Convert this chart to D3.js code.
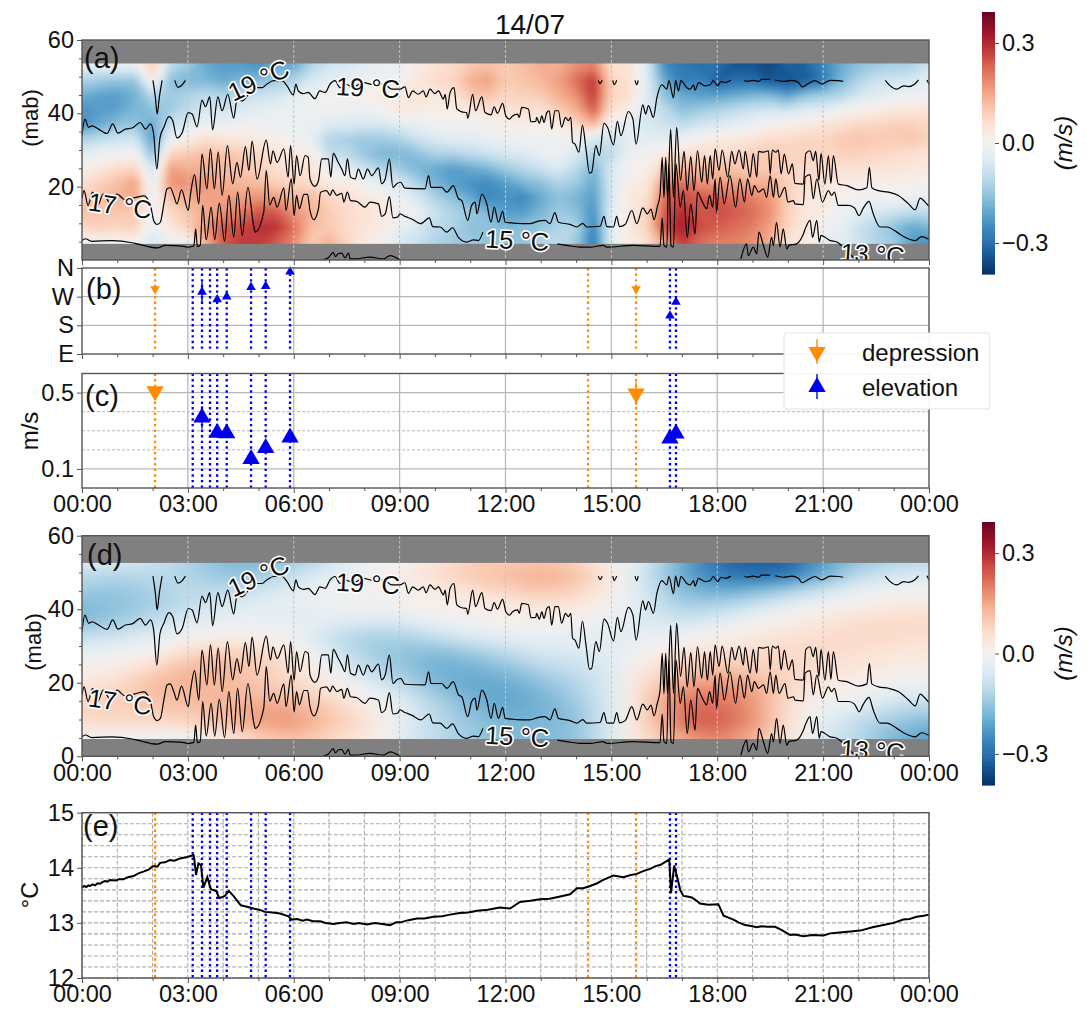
<!DOCTYPE html>
<html><head><meta charset="utf-8">
<script src="https://cdn.jsdelivr.net/npm/d3@7/dist/d3.min.js"></script>
<style>html,body{margin:0;padding:0;background:#fff}svg{display:block}text{font-family:"Liberation Sans",Arial,sans-serif;fill:#111}</style>
</head><body><svg id="c" width="1087" height="1010"></svg>
<script>
// ---------- data ----------
const title = "14/07";
const hourTicks = [0,3,6,9,12,15,18,21,24];
const minorHours = [1,2,4,5,7,8,10,11,13,14,16,17,19,20,22,23];
const mabRows = [53,49,45,41,37,33,29,25,21,17,13,9,5];
// velocity (hundredths of m/s): one list per half hour, top to bottom
const observedColumns = [
[-3,-12,-19,-24,-24,-12,-4,2,6,9,11,8,0],[-3,-14,-21,-22,-20,-10,-2,4,9,11,11,9,1],[-2,-15,-22,-21,-16,-8,-1,7,12,13,11,8,0],[-3,-15,-19,-18,-15,-7,0,8,16,15,10,9,1],
[10,4,-10,-16,-20,-22,-16,-8,-3,-2,-1,-3,-6],[-10,-16,-14,-14,-8,-2,8,16,18,12,7,5,-2],[-14,-18,-12,-10,-6,2,10,14,18,14,11,9,0],[-20,-18,-10,-6,-2,6,12,14,17,16,14,17,14],
[-22,-20,-12,-7,-3,5,11,12,14,16,18,24,24],[-22,-18,-10,-5,-2,4,10,11,13,16,20,26,28],[-24,-17,-8,-4,-1,3,7,9,12,18,25,29,28],[-20,-14,-7,-3,-2,1,5,6,9,16,24,29,24],
[-20,-12,-4,-2,-2,-1,3,5,8,13,18,22,19],[-12,-6,-1,-1,-3,-3,3,5,7,12,14,12,10],[-7,-4,0,-1,-5,-12,-10,-2,3,8,10,10,14],[-6,-3,1,-2,-5,-13,-10,-4,3,6,7,7,8],
[-4,-2,2,-2,-6,-14,-15,-8,-1,4,5,5,3],[-3,-1,2,1,-6,-14,-18,-12,-4,2,4,3,0],[-2,0,3,3,-4,-12,-18,-14,-6,-2,0,-3,-6],[3,4,5,3,-3,-8,-16,-18,-12,-6,-2,-6,-8],
[5,7,4,2,0,-6,-12,-20,-18,-12,-8,-10,-12],[7,8,5,2,0,-4,-12,-22,-22,-16,-12,-12,-14],[10,14,10,4,-1,-4,-10,-20,-24,-20,-14,-16,-14],[12,16,12,5,0,-3,-8,-18,-25,-26,-18,-15,-15],
[10,10,8,5,2,-2,-6,-14,-22,-24,-22,-18,-16],[12,11,9,6,2,-2,-5,-11,-18,-26,-22,-16,-16],[14,13,10,6,1,-1,-3,-8,-16,-20,-18,-15,-12],[14,16,14,10,3,-1,-2,-5,-12,-16,-14,-12,-10],
[18,22,18,14,8,-2,-6,-10,-14,-18,-16,-12,-14],[20,28,28,24,14,-6,-12,-18,-20,-22,-24,-26,-28],[6,8,8,6,-2,-8,-10,-6,-6,-6,-4,-4,-4],[5,6,6,2,-4,-4,-2,0,2,4,3,4,2],
[-5,-4,-4,-6,-6,-4,0,1,4,5,8,8,6],[-25,-20,-16,-10,-8,-4,4,10,18,22,24,26,16],[-28,-28,-20,-16,-10,-2,6,12,22,26,30,32,28],[-30,-26,-22,-14,-7,0,7,12,18,24,25,26,22],
[-30,-32,-22,-12,-6,3,6,12,16,24,26,24,20],[-34,-30,-20,-10,-4,3,8,11,16,22,24,22,20],[-34,-30,-18,-8,-2,5,9,10,14,20,22,20,18],[-36,-34,-18,-7,1,7,10,10,14,17,18,16,14],
[-32,-34,-22,-8,2,7,9,8,9,9,9,8,5],[-32,-33,-16,-5,3,8,8,7,6,4,4,4,3],[-26,-28,-14,-4,5,8,8,7,5,4,2,0,-3],[-20,-18,-12,-1,6,10,9,6,3,1,-2,-3,-4],
[-16,-12,-7,1,8,11,9,6,2,0,-4,-8,-8],[-14,-8,-5,2,8,10,8,5,1,-2,-6,-12,-12],[-13,-7,-3,4,9,10,7,5,2,0,-8,-16,-14],[-12,-6,-2,4,9,11,6,4,1,-2,-10,-20,-22],[-8,-4,-1,5,8,9,5,4,0,-3,-10,-18,-24]
];
// fitted velocity (hundredths of m/s): one list per hour, top to bottom
const fittedColumns = [
[-5,-10,-14,-17,-17,-10,-4,0,3,6,8,7,-1],[-6,-12,-15,-16,-14,-8,-2,2,6,8,9,7,-1],[-8,-10,-13,-13,-10,-5,0,6,11,12,10,7,-3],[-12,-12,-10,-9,-5,-1,6,12,14,13,11,8,-3],
[-17,-15,-10,-6,-3,1,8,13,13,13,13,11,3],[-18,-14,-8,-4,-2,1,7,10,10,12,16,16,9],[-14,-8,-4,-3,-3,-2,2,5,7,10,15,17,12],[-8,-4,-1,-2,-4,-8,-6,-2,2,6,10,11,8],
[-2,-1,0,-1,-5,-12,-13,-10,-5,0,4,6,4],[1,2,1,0,-5,-12,-15,-15,-12,-6,-3,-3,-4],[5,6,3,1,-2,-8,-16,-19,-18,-14,-11,-10,-10],[9,10,6,2,0,-5,-13,-18,-20,-19,-17,-15,-14],
[10,12,8,3,1,-3,-9,-15,-19,-21,-20,-18,-17],[11,14,11,5,1,-2,-6,-10,-15,-18,-19,-18,-17],[9,12,9,4,1,-3,-5,-8,-11,-13,-15,-16,-16],[2,3,2,0,-2,-4,-4,-5,-5,-5,-5,-5,-5],
[-7,-8,-7,-6,-6,-3,0,4,7,9,9,9,7],[-20,-20,-17,-13,-8,-2,4,8,13,19,22,22,15],[-30,-27,-20,-12,-5,0,5,10,16,20,23,24,20],[-33,-29,-18,-8,-1,3,6,9,13,17,18,18,14],
[-32,-28,-13,-4,2,5,7,8,8,7,6,6,4],[-22,-19,-8,0,4,6,7,6,4,2,-2,-4,-6],[-15,-10,-3,2,6,7,6,5,2,-1,-5,-10,-11],[-12,-6,-1,3,7,7,5,3,0,-4,-10,-15,-18],[-10,-5,-1,4,7,6,4,2,-1,-5,-12,-18,-22]
];
// isotherms: [hour, metres above bottom]
const iso19Main = [[0,33.9],[.08,38.4],[.19,36.2],[.28,36.6],[.47,35.7],[.71,34.5],[.87,37.1],[1.02,34.6],[1.23,35.7],[1.42,36],[1.65,37.5],[1.8,35.7],[1.94,37.1],[2.03,34.4],[2.12,24.8],[2.21,33.4],[2.32,36.2],[2.46,39.1],[2.57,38],[2.69,33.3],[2.84,34.8],[3.01,40.2],[3.12,39.8],[3.26,36.3],[3.4,43.6],[3.5,41.8],[3.62,44.5],[3.7,35.5],[3.85,44.5],[3.97,40.7],[4.13,45.2],[4.3,38.7],[4.39,43.6],[4.54,43.4],[4.7,45],[4.9,47],[5.1,47],[5.24,48],[5.43,48.9],[5.67,48.9],[5.81,47.5],[5.99,45],[6.06,48],[6.13,46.1],[6.27,45.4],[6.41,45.7],[6.6,44],[6.74,46.1],[6.89,45.7],[7.03,48],[7.17,48.9],[7.31,47],[7.45,48],[7.69,47.2],[7.97,48.4],[8.26,47.8],[8.54,48],[8.78,46.6],[9.01,46.6],[9.15,47.2],[9.25,44.3],[9.37,46.1],[9.53,45.2],[9.67,46.1],[9.75,44.5],[9.86,46.6],[10,45.4],[10.1,46.1],[10.24,43.9],[10.29,45.2],[10.35,41.2],[10.43,45.7],[10.54,47],[10.62,41.2],[10.76,40.4],[10.9,40.2],[10.93,38.6],[11.07,45.2],[11.15,40.7],[11.33,44.5],[11.42,40.2],[11.59,39.6],[11.68,41.8],[11.77,40],[11.92,42.7],[12.01,39.3],[12.11,38.4],[12.2,39.3],[12.34,39.8],[12.39,38.9],[12.46,41.6],[12.65,41.2],[12.72,37.7],[12.86,37.8],[12.88,38.9],[12.96,37.3],[13.03,39.3],[13.09,37.5],[13.17,40.2],[13.24,40.7],[13.31,35.7],[13.4,40.7],[13.5,40.7],[13.59,36.2],[13.7,38.9],[13.78,38],[13.85,38.9],[13.9,32.1],[13.97,31.6],[14.08,29.4],[14.18,36.8],[14.28,30.3],[14.38,23.7],[14.44,23.9],[14.56,31.2],[14.66,28.5],[14.79,37.3],[14.89,36.2],[15.06,31.4],[15.17,37.8],[15.27,33.9],[15.48,40.5],[15.61,38.4],[15.7,31.6],[15.89,42.3],[15.97,39.8],[16.05,42.1],[16.19,38.9],[16.29,44.3],[16.43,47.8],[16.57,46.6],[16.63,48.9],[16.76,44.2],[16.82,49],[16.9,46.1],[16.97,48.9],[17.14,47],[17.23,46.6],[17.33,47.8],[17.37,46.3],[17.47,48.4],[17.66,47.5],[17.8,47.8],[17.89,48.9],[18.01,47.5],[18.11,48.7],[18.22,48.4],[18.39,49]];
const iso19Parts = [
[[18.77,49],[18.83,48.7],[19.02,49],[19.17,48.7],[19.26,49.3],[19.5,49.3]],
[[19.64,49.1],[19.87,48.7],[20.11,49],[20.3,48.4],[20.41,47.2],[20.58,48.1],[20.77,48.9],[20.96,48],[21.2,49],[21.43,48.9],[21.57,48.7]],
[[22.76,49],[22.9,47.5],[23.09,46.6],[23.28,47.5],[23.42,47.3],[23.6,48],[23.7,49.1]],
[[23.94,49.1],[24,48]],
[[2.01,49],[2.08,44.3],[2.13,39.8],[2.19,44.3],[2.27,49]],
[[2.63,49],[2.72,47.1],[2.84,47.8],[2.93,49]],
[[14.63,49],[14.68,48.1],[14.74,49]],
[[15.04,49],[15.08,47.8],[15.15,49]],
[[15.67,49],[15.72,47.8],[15.76,49]]
];
const iso17 = [[0,16.7],[.06,18.9],[.17,14.9],[.3,18.5],[.45,15],[.6,18],[.8,15.5],[1,18],[1.2,16.5],[1.5,17],[1.75,17.5],[1.94,14.9],[2.03,10.8],[2.13,9.7],[2.22,10.3],[2.32,15.3],[2.41,19.4],[2.5,19.7],[2.6,17.6],[2.69,15.3],[2.82,19.1],[3.01,13.5],[3.07,17.6],[3.19,23.3],[3.31,15.3],[3.4,28.9],[3.54,19.4],[3.64,30.3],[3.75,19.4],[3.86,29.4],[3.97,17.6],[4.12,31.2],[4.27,20.8],[4.39,26.6],[4.49,22.6],[4.63,30.9],[4.73,24.4],[4.82,32.4],[4.96,22.1],[5.22,32.7],[5.34,26.2],[5.41,29.8],[5.53,26.6],[5.72,30.3],[5.84,22.6],[5.91,31.2],[6.01,20.7],[6.08,28.5],[6.18,23],[6.32,28.5],[6.41,28],[6.46,22.1],[6.6,20.1],[6.7,21.6],[6.79,27.6],[6.98,27.6],[7.05,22.6],[7.12,29.1],[7.26,26.6],[7.36,24.8],[7.45,23],[7.52,27.6],[7.61,22.6],[7.74,22.1],[7.83,24.8],[7.97,22.1],[8.09,24.8],[8.21,23],[8.4,25.1],[8.49,20.8],[8.59,22.1],[8.71,27.6],[8.81,19.8],[8.92,20.8],[9.03,21.2],[9.15,19.6],[9.72,19.4],[9.82,23],[9.89,19.8],[10.19,19.8],[10.34,18.5],[10.52,20.3],[10.67,16.7],[10.76,16.2],[10.93,10.8],[11.04,14.9],[11.14,15.8],[11.19,12.6],[11.33,18],[11.47,15.3],[11.59,10.3],[11.68,14.4],[11.8,10.3],[11.92,13.3],[11.99,10.3],[12.31,10],[12.69,9.9],[12.93,10.6],[13.12,10.8],[13.26,9.9],[13.4,12.9],[13.5,10.3],[13.83,9.7],[14.02,9],[14.19,10],[14.3,9],[14.68,9.2],[14.79,11.9],[14.87,9.1],[15.06,9],[15.15,11.9],[15.23,9.1],[15.39,9.7],[15.58,13.5],[15.72,9.9],[15.89,14.2],[16.02,12.6],[16.12,13.9],[16.21,11],[16.3,14.4],[16.38,18],[16.44,28],[16.49,17],[16.54,28],[16.59,17.1],[16.68,35.7],[16.76,17.1],[16.85,36.2],[16.96,21.7],[17.06,29.6],[17.15,18.9],[17.25,28.2],[17.34,18.9],[17.44,29.8],[17.56,21.2],[17.64,28.5],[17.72,20.7],[17.8,28.5],[17.87,22.1],[17.94,30.3],[18.05,24.4],[18.14,30],[18.3,22.6],[18.41,29.6],[18.5,26.2],[18.62,30],[18.74,24.8],[18.79,29.6],[18.93,22.6],[19.02,29.1],[19.12,22.6],[19.17,29.6],[19.31,29.4],[19.45,29.8],[19.5,23.5],[19.56,30],[19.66,29.4],[19.73,30],[19.81,23.5],[19.9,28.9],[20.02,23.5],[20.13,26.2],[20.2,20.9],[20.44,20.7],[20.51,29.1],[20.63,29.8],[20.72,27.1],[20.79,29.6],[20.88,21.7],[20.94,29.1],[21.05,20.7],[21.15,28.5],[21.22,20.9],[21.29,28.5],[21.43,20.7],[21.67,20.3],[22,19.1],[22.24,19.7],[22.31,25.3],[22.38,19.7],[22.57,18.9],[22.85,18.5],[23.13,17.6],[23.42,15.3],[23.61,13.7],[23.75,16.9],[23.87,16],[24,14.6]];
const iso15Early = [[0,5.3],[.09,5.8],[.28,5.1],[.85,5.3],[1.42,4.7],[1.56,4.4],[2.13,3.3],[2.36,4],[2.84,3.8],[3.02,3.5],[3.17,3.8],[3.22,8.5],[3.27,3.7],[3.35,4],[3.42,14.9],[3.52,5.5],[3.66,14.4],[3.76,5.5],[3.89,15.5],[4.04,5.1],[4.16,17.6],[4.3,6.2],[4.41,18.5],[4.54,6.7],[4.7,19.8],[4.87,9],[4.91,7.6],[5.15,13.1],[5.22,24.4],[5.32,15],[5.43,17.1],[5.53,14.4],[5.72,19.7],[5.78,13.5],[5.93,22.1],[6.01,12.1],[6.08,17.6],[6.16,14],[6.29,17.9],[6.39,17.9],[6.46,13.5],[6.57,11],[6.7,14],[6.76,18.5],[6.93,18.9],[7.03,17.6],[7.1,19.1],[7.22,17.6],[7.36,18.2],[7.42,15.8],[7.52,18.5],[7.61,16.2],[7.78,16],[8.02,14.4],[8.16,15.8],[8.4,15.3],[8.49,11.9],[8.59,12.6],[8.71,17.3],[8.81,11.5],[8.94,11.7],[9.01,12.6],[9.15,11.9],[9.34,11.2],[9.6,9.9],[9.84,11.5],[9.94,9.1],[10.15,9],[10.34,7.6],[10.5,8.8],[10.67,6.1],[10.9,4.9],[11.09,5.5],[11.23,5.3],[11.36,7.6]];
const iso15Late = [[13.47,4.4],[13.73,4],[14.11,3.5],[14.4,3.5],[14.77,4],[14.87,3.5],[15.62,4],[16.38,3.7],[16.44,11.5],[16.49,4],[16.57,3.5],[16.63,26.2],[16.69,4],[16.76,3.5],[16.83,26.2],[16.95,14.4],[17.04,18.9],[17.15,6.2],[17.25,15.3],[17.37,7.1],[17.44,18.5],[17.56,16.2],[17.7,14],[17.78,17.6],[17.87,14.4],[17.94,22.1],[17.98,13],[18.08,22.6],[18.2,15.3],[18.36,23],[18.52,14.4],[18.64,22.1],[18.77,15.8],[18.86,22.1],[18.98,17.6],[19.05,20.3],[19.17,18.5],[19.31,19.4],[19.4,17.1],[19.5,23],[19.59,17.1],[19.66,22.1],[19.75,17.1],[19.92,19.8],[20,15.8],[20.16,16.2],[20.2,15.3],[20.44,15.1],[20.49,22.6],[20.63,23.3],[20.72,16.7],[20.82,22.1],[20.98,15.8],[21.15,18.9],[21.24,17.6],[21.32,18.5],[21.43,14.9],[21.72,14.9],[21.89,14.2],[22.02,12.1],[22.14,14.2],[22.3,16],[22.42,12.6],[22.61,9],[22.8,9],[23.09,7.6],[23.32,6.2],[23.61,5.3],[23.79,6.4],[24,5.6]];
const iso13Early = [[6.84,.1],[6.98,.6],[7.12,2.1],[7.18,.9],[7.26,1.7],[7.36,1.9],[7.45,.6],[7.55,1.9],[7.6,.3],[7.74,.3],[8.16,.8],[8.54,.3],[8.73,1.2],[9.01,0]];
const iso13Late = [[18.67,.3],[18.83,4.4],[18.88,1.2],[19.02,3.5],[19.12,1.7],[19.18,7.6],[19.31,3.9],[19.43,.8],[19.54,6.2],[19.59,3.9],[19.68,10.3],[19.78,3.5],[19.87,8.5],[19.97,3],[20.03,4],[20.25,4.4],[20.44,7.1],[20.51,8.9],[20.63,10.8],[20.7,6.2],[20.82,10.8],[20.89,4.9],[20.94,6.7],[21.2,5.3],[21.39,4.9],[21.57,3.5],[21.9,.2]];
const isoLabels = [["19 °C",5.0,49,-25],["19 °C",8.1,47,3],["17 °C",1.08,14.8,8],["15 °C",12.33,5.4,3],["13 °C",22.4,1.6,4]];
// detected internal-wave events
const depressionLines = [2.07,14.34,15.7];
const elevationLines = [3.137,3.4,3.627,3.83,4.1,4.79,5.205,5.894,16.66,16.83];
const depressionHours = [2.07,15.7];
const depressionDirection = [204,204];
const depressionDirErr = [8,8];
const depressionSpeed = [.507,.495];
const depressionSpeedErr = [.02,.06];
const elevationHours = [3.4,3.83,4.1,4.79,5.205,5.894,16.66,16.83];
const elevationDirection = [195,171,180,210,213,258,120,163];
const elevationDirErr = [33,4,4,4,4,4,6,4];
const elevationSpeed = [.37,.29,.287,.152,.21,.265,.26,.285];
const elevationSpeedErr = [.06,.01,.01,.01,.01,.01,.01,.01];
const compassLabels = ["E","S","W","N"];
const compassValues = [0,90,180,270];
const speedMajor = [.1,.5], speedMinor = [.2,.3,.4];
const bottomTemp = [[0,13.64],[.06,13.67],[.12,13.65],[.18,13.68],[.23,13.67],[.3,13.7],[.37,13.68],[.44,13.72],[.51,13.71],[.58,13.74],[.65,13.76],[.72,13.75],[.79,13.78],[.95,13.77],[1.05,13.79],[1.17,13.79],[1.3,13.83],[1.46,13.85],[1.6,13.9],[1.74,13.93],[1.9,13.97],[2.0,14.03],[2.07,14.03],[2.14,14.02],[2.21,14.09],[2.35,14.1],[2.49,14.14],[2.62,14.13],[2.78,14.17],[2.95,14.19],[3.05,14.21],[3.16,14.23],[3.18,14.17],[3.23,13.87],[3.3,14.08],[3.37,14.05],[3.44,13.64],[3.55,13.83],[3.65,13.61],[3.8,13.58],[3.89,13.45],[4.05,13.49],[4.16,13.58],[4.29,13.49],[4.5,13.32],[4.7,13.29],[4.86,13.26],[5.02,13.24],[5.19,13.2],[5.4,13.19],[5.61,13.17],[5.85,13.12],[5.94,13.06],[6.1,13.07],[6.25,13.04],[6.37,13.06],[6.55,13.03],[6.75,13.03],[6.9,13],[7.13,12.98],[7.3,13],[7.5,13.01],[7.7,12.98],[7.85,13],[8.07,12.97],[8.3,13],[8.5,12.98],[8.73,12.96],[8.9,13.01],[9.02,13.01],[9.25,13.05],[9.49,13.08],[9.7,13.08],[9.96,13.11],[10.2,13.12],[10.43,13.15],[10.7,13.18],[10.95,13.19],[11.19,13.22],[11.5,13.24],[11.84,13.28],[12.13,13.26],[12.41,13.38],[12.7,13.4],[12.98,13.43],[13.25,13.44],[13.55,13.48],[13.83,13.52],[14.02,13.63],[14.2,13.63],[14.4,13.67],[14.6,13.72],[14.77,13.78],[15.06,13.86],[15.34,13.83],[15.55,13.87],[15.72,13.89],[15.9,13.94],[16.1,13.98],[16.25,14.03],[16.38,14.05],[16.64,14.15],[16.69,13.54],[16.78,14.04],[16.85,13.87],[16.95,13.6],[17.04,13.49],[17.15,13.48],[17.28,13.46],[17.4,13.41],[17.51,13.35],[17.75,13.33],[18.03,13.34],[18.18,13.13],[18.46,13.06],[18.6,13.01],[18.79,12.96],[19,12.94],[19.12,12.92],[19.25,12.94],[19.4,12.93],[19.64,12.93],[19.83,12.87],[20.07,12.78],[20.2,12.79],[20.44,12.76],[20.7,12.78],[21.01,12.77],[21.2,12.81],[21.39,12.82],[21.7,12.84],[22.05,12.86],[22.4,12.92],[22.71,12.96],[23,13],[23.27,13.06],[23.45,13.07],[23.65,13.11],[23.85,13.13],[24,13.15]];
const tempMajor = [12,13,14,15];
const tempMinor = [12.2,12.4,12.6,12.8,13.2,13.4,13.6,13.8,14.2,14.4,14.6,14.8];
const mabTicksA = [20,40,60], mabTicksD = [0,20,40,60];
const mabMinor = [5,10,15,25,30,35,45,50,55];
const cbarTicks = [-.3,0,.3];
const velocityLimit = .393;
const legendItems = ["depression","elevation"];

// ---------- drawing ----------
const svg = d3.select("#c");
const L=82, R=929, FS=23.5, ORANGE="#ff8c00", BLUE="#0000ee", GRID="#b8b8b8", SPINE="#555";
const x = d3.scaleLinear().domain([0,24]).range([L,R]);
const color = v => d3.interpolateRdBu(1-(v+velocityLimit)/(2*velocityLimit));
const hhmm = h => String(h%24).padStart(2,"0")+":00";
const defs = svg.append("defs");
let uid=0;
function clipFor(top,bot){const id="clip"+(uid++);defs.append("clipPath").attr("id",id).append("rect").attr("x",L).attr("y",top).attr("width",R-L).attr("height",bot-top);return id;}
function text(s,px,py,size,anchor,extra){const t=svg.append("text").attr("x",px).attr("y",py).attr("font-size",size).attr("text-anchor",anchor||"middle").attr("dominant-baseline","central").text(s);if(extra)extra(t);return t;}
function frame(top,bot){svg.append("rect").attr("x",L).attr("y",top).attr("width",R-L).attr("height",bot-top).attr("fill","none").attr("stroke",SPINE).attr("stroke-width",1.4);}
function xAxis(bot,labels){
  const g=svg.append("g").attr("transform",`translate(0,${bot})`).call(d3.axisBottom(x).tickValues(hourTicks).tickSize(5).tickPadding(1).tickFormat(labels?hhmm:""));
  g.select(".domain").remove();g.selectAll("line").attr("stroke",SPINE);g.selectAll("text").attr("font-size",FS).attr("dy","0.78em");
  const m=svg.append("g").attr("transform",`translate(0,${bot})`).call(d3.axisBottom(x).tickValues(minorHours).tickSize(3).tickFormat(""));
  m.select(".domain").remove();m.selectAll("line").attr("stroke",SPINE);
}
function yAxis(y,vals,fmt,minor){
  const g=svg.append("g").attr("transform",`translate(${L},0)`).call(d3.axisLeft(y).tickValues(vals).tickSize(5).tickPadding(3).tickFormat(fmt));
  g.select(".domain").remove();g.selectAll("line").attr("stroke",SPINE);g.selectAll("text").attr("font-size",FS);
  if(minor){const m=svg.append("g").attr("transform",`translate(${L},0)`).call(d3.axisLeft(y).tickValues(minor).tickSize(3).tickFormat(""));m.select(".domain").remove();m.selectAll("line").attr("stroke",SPINE);}
}
function fieldPanel(top,bot,columns,step,blurX,blurY,yTicks,maskTop,maskBottom){
  const y=d3.scaleLinear().domain([0,60]).range([bot,top]);
  const clip=clipFor(top,bot);
  const root=svg.append("g").attr("clip-path",`url(#${clip})`);
  const fid="blur"+(uid++);
  defs.append("filter").attr("id",fid).attr("filterUnits","userSpaceOnUse").attr("x",L-150).attr("y",top-60).attr("width",R-L+300).attr("height",bot-top+120)
    .append("feGaussianBlur").attr("stdDeviation",`${blurX} ${blurY}`);
  const pad=3,n=columns.length,m=mabRows.length,w=n+2*pad,h=m+2*pad,vals=new Array(w*h);
  for(let j=0;j<h;j++)for(let i=0;i<w;i++){const c=Math.max(0,Math.min(n-1,i-pad)),r=Math.max(0,Math.min(m-1,j-pad));vals[i+j*w]=columns[c][r]/100;}
  const levels=d3.range(-.42,.42,.015);
  const rowStep=mabRows[0]-mabRows[1];
  const proj=d3.geoTransform({point(a,b){this.stream.point(x((a-.5-pad)*step),y(mabRows[0]-(b-.5-pad)*rowStep));}});
  const path=d3.geoPath(proj);
  const cg=root.append("g").attr("filter",`url(#${fid})`);
  cg.selectAll("path").data(d3.contours().size([w,h]).smooth(true).thresholds(levels)(vals)).join("path")
    .attr("d",path).attr("fill",d=>color(Math.max(-velocityLimit,Math.min(velocityLimit,d.value+.0075))));
  // masked zones above and below the instrument range
  root.append("rect").attr("x",L).attr("width",R-L).attr("y",top).attr("height",y(maskTop)-top).attr("fill","#808080");
  root.append("rect").attr("x",L).attr("width",R-L).attr("y",y(maskBottom)).attr("height",bot-y(maskBottom)).attr("fill","#808080");
  root.selectAll("line.v").data(hourTicks.slice(1,-1)).join("line").attr("x1",x).attr("x2",x).attr("y1",top).attr("y2",bot)
    .attr("stroke","#c4c4c4").attr("stroke-width",1).attr("stroke-dasharray","3 2");
  const line=d3.line().curve(d3.curveMonotoneX).x(d=>x(d[0])).y(d=>y(d[1]));
  [iso19Main,...iso19Parts,iso17,iso15Early,iso15Late,iso13Early,iso13Late].forEach(s=>{
    root.append("path").attr("d",line(s)).attr("fill","none").attr("stroke","#000").attr("stroke-width",1.2).attr("stroke-linejoin","round");
  });
  isoLabels.forEach(([s,t,mab,rot])=>{
    root.append("text").attr("transform",`translate(${x(t)},${y(mab)}) rotate(${rot})`).attr("text-anchor","middle").attr("dominant-baseline","central")
      .attr("font-size",25.5).attr("stroke","#fff").attr("stroke-width",3.2).attr("paint-order","stroke").attr("stroke-linejoin","round").text(s);
  });
  frame(top,bot);
  yAxis(y,yTicks,d3.format("d"),mabMinor);
  return y;
}
function colorbar(top,bot){
  const X0=982,X1=995;
  const s=d3.scaleLinear().domain([-velocityLimit,velocityLimit]).range([bot,top]);
  const g=svg.append("g");
  const steps=d3.range(-velocityLimit,velocityLimit,velocityLimit/64);
  g.selectAll("rect").data(steps).join("rect").attr("x",X0).attr("width",X1-X0).attr("y",d=>s(d+velocityLimit/64)).attr("height",d=>s(d)-s(d+velocityLimit/64)+.6).attr("fill",d=>color(d+velocityLimit/128));
  const a=svg.append("g").attr("transform",`translate(${X1},0)`).call(d3.axisRight(s).tickValues(cbarTicks).tickSize(4).tickPadding(3).tickFormat(d=>d===0?"0.0":d3.format(".1f")(d).replace("-","−")));
  a.select(".domain").remove();a.selectAll("line").attr("stroke",SPINE);a.selectAll("text").attr("font-size",FS);
  svg.append("text").attr("transform",`translate(1063,${(top+bot)/2}) rotate(-90)`).attr("text-anchor","middle").attr("dominant-baseline","central").attr("font-size",24).attr("font-style","italic").text("(m/s)");
}
function eventLines(top,bot){
  const draw=(arr,c)=>svg.append("g").selectAll("line").data(arr).join("line").attr("x1",x).attr("x2",x).attr("y1",top).attr("y2",bot).attr("stroke",c).attr("stroke-width",2.3).attr("stroke-dasharray","2.4 3.2");
  draw(depressionLines,ORANGE);draw(elevationLines,BLUE);
}
function markers(hours,values,errs,y,col,size,down){
  const sym=d3.symbol().type(d3.symbolTriangle).size(size);
  const g=svg.append("g");
  hours.forEach((h,i)=>{
    g.append("line").attr("x1",x(h)).attr("x2",x(h)).attr("y1",y(values[i]-errs[i])).attr("y2",y(values[i]+errs[i])).attr("stroke",col).attr("stroke-width",1.4);
    g.append("path").attr("d",sym()).attr("fill",col).attr("transform",`translate(${x(h)},${y(values[i])}) rotate(${down?180:0})`);
  });
}

// title
text(title,530,24,28);

// panel a
fieldPanel(40,260,observedColumns,.5,3,3,mabTicksA,53.6,4.4);
colorbar(12,274);
xAxis(260,false);
text("(a)",84,58,29,"start");
svg.append("text").attr("transform","translate(30,118) rotate(-90)").attr("text-anchor","middle").attr("dominant-baseline","central").attr("font-size",22).text("(mab)");

// panel b
const yb=d3.scaleLinear().domain([0,270]).range([354,268]);
svg.append("g").selectAll("line").data([90,180]).join("line").attr("x1",L).attr("x2",R).attr("y1",yb).attr("y2",yb).attr("stroke",GRID).attr("stroke-width",1.3);
svg.append("g").selectAll("line").data(hourTicks.slice(1,-1)).join("line").attr("x1",x).attr("x2",x).attr("y1",268).attr("y2",354).attr("stroke",GRID).attr("stroke-width",1.3);
eventLines(268,351);
markers(depressionHours,depressionDirection,depressionDirErr,yb,ORANGE,40,true);
markers(elevationHours,elevationDirection,elevationDirErr,yb,BLUE,40,false);
frame(268,354);
xAxis(354,false);
yAxis(yb,compassValues,(d,i)=>compassLabels[i]);
text("(b)",86,289,29,"start");

// panel c
const yc=d3.scaleLinear().domain([0,.6]).range([488,373.5]);
svg.append("g").selectAll("line").data(speedMinor).join("line").attr("x1",L).attr("x2",R).attr("y1",yc).attr("y2",yc).attr("stroke",GRID).attr("stroke-dasharray","3 2");
svg.append("g").selectAll("line").data(speedMajor).join("line").attr("x1",L).attr("x2",R).attr("y1",yc).attr("y2",yc).attr("stroke",GRID).attr("stroke-width",1.3);
svg.append("g").selectAll("line").data(hourTicks.slice(1,-1)).join("line").attr("x1",x).attr("x2",x).attr("y1",373.5).attr("y2",488).attr("stroke",GRID).attr("stroke-width",1.3);
eventLines(373.5,488);
markers(depressionHours,depressionSpeed,depressionSpeedErr,yc,ORANGE,130,true);
markers(elevationHours,elevationSpeed,elevationSpeedErr,yc,BLUE,130,false);
frame(373.5,488);
xAxis(488,true);
yAxis(yc,speedMajor,d3.format(".1f"));
text("(c)",85,396,29,"start");
svg.append("text").attr("transform","translate(29,431) rotate(-90)").attr("text-anchor","middle").attr("dominant-baseline","central").attr("font-size",24).text("m/s");

// legend
const lg=svg.append("g");
lg.append("rect").attr("x",784).attr("y",333).attr("width",206).attr("height",76).attr("rx",3).attr("fill","#fff").attr("fill-opacity",.95).attr("stroke","#e2e2e2");
[[ORANGE,352,true],[BLUE,387,false]].forEach(([c,py,down],i)=>{
  lg.append("line").attr("x1",817).attr("x2",817).attr("y1",py-13).attr("y2",py+12).attr("stroke",c).attr("stroke-width",1.4);
  lg.append("path").attr("d",d3.symbol().type(d3.symbolTriangle).size(130)()).attr("fill",c).attr("transform",`translate(817,${py}) rotate(${down?180:0})`);
  text(legendItems[i],862,py,24,"start");
});

// panel d
fieldPanel(535.7,756.3,fittedColumns,1,11,5,mabTicksD,52.6,4.7);
colorbar(522,785);
xAxis(756.3,true);
text("(d)",87,555,29,"start");
svg.append("text").attr("transform","translate(33,642) rotate(-90)").attr("text-anchor","middle").attr("dominant-baseline","central").attr("font-size",22).text("(mab)");

// panel e
const ye=d3.scaleLinear().domain([12,15]).range([978,812.7]);
const eg=svg.append("g").attr("stroke","#aaa").attr("stroke-width",1.1).attr("stroke-dasharray","4 2");
eg.selectAll("line.h").data(tempMajor.concat(tempMinor)).join("line").attr("class","h").attr("x1",L).attr("x2",R).attr("y1",ye).attr("y2",ye);
eg.selectAll("line.v").data(hourTicks.concat(minorHours)).join("line").attr("class","v").attr("x1",x).attr("x2",x).attr("y1",812.7).attr("y2",978);
eventLines(812.7,978);
svg.append("path").attr("d",d3.line().x(d=>x(d[0])).y(d=>ye(d[1]))(bottomTemp)).attr("fill","none").attr("stroke","#000").attr("stroke-width",2);
frame(812.7,978);
xAxis(978,true);
yAxis(ye,tempMajor,d3.format("d"));
text("(e)",83,826,29,"start");
svg.append("text").attr("transform","translate(30,895) rotate(-90)").attr("text-anchor","middle").attr("dominant-baseline","central").attr("font-size",FS).text("°C");
</script></body></html>
